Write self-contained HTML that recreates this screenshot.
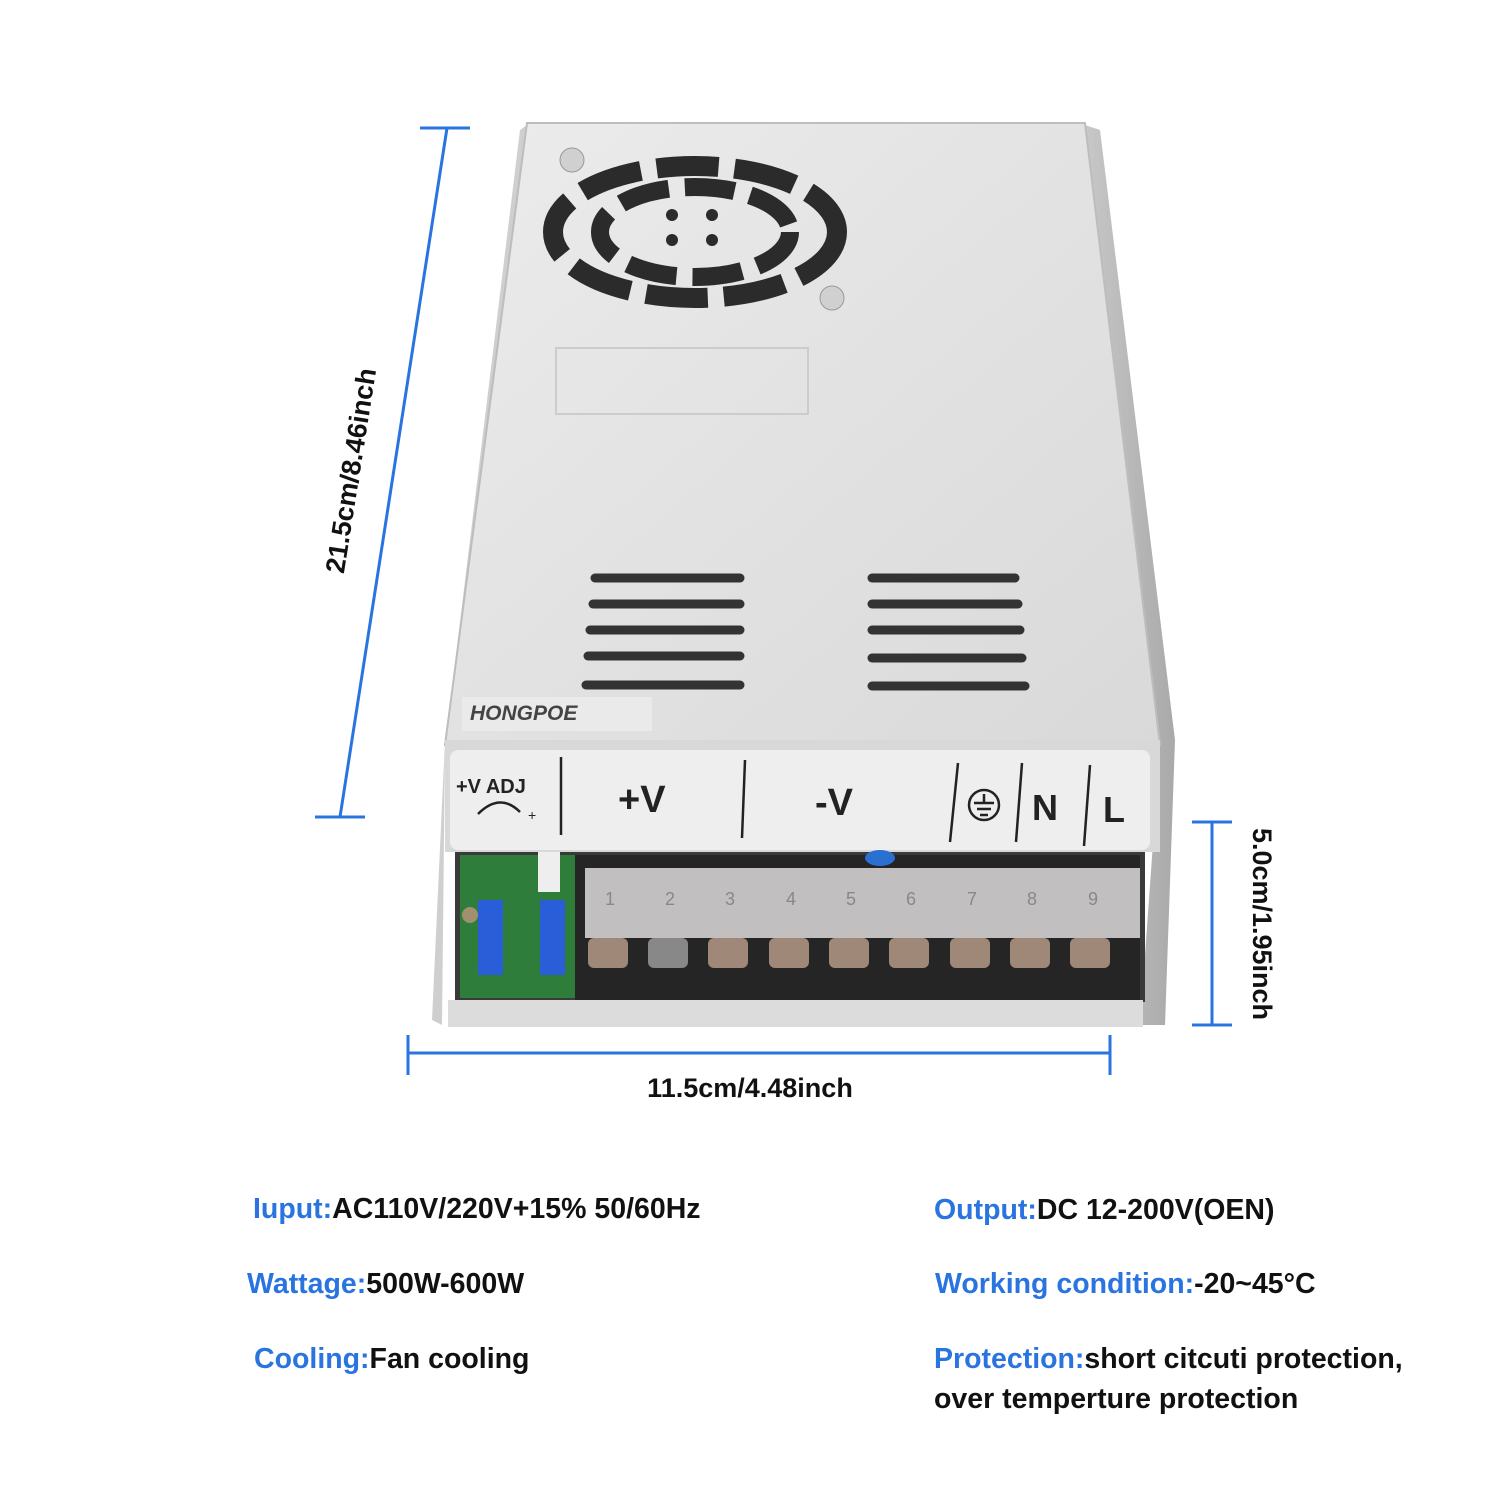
<!DOCTYPE html>
<html><head><meta charset="utf-8"><style>
html,body{margin:0;padding:0;background:#fff;width:1500px;height:1500px;overflow:hidden}
svg{display:block}
.lab{font-family:"Liberation Sans",sans-serif;font-weight:bold;font-size:27px}
.spec{font-family:"Liberation Sans",sans-serif;font-weight:bold;font-size:28.5px}
</style></head><body>
<svg width="1500" height="1500" viewBox="0 0 1500 1500">
<defs>
<linearGradient id="top" x1="0" y1="0" x2="1" y2="1">
<stop offset="0" stop-color="#ececec"/><stop offset="0.5" stop-color="#e2e2e2"/><stop offset="1" stop-color="#d9d9d9"/></linearGradient>
<linearGradient id="side" x1="0" y1="0" x2="1" y2="0">
<stop offset="0" stop-color="#c8c8c8"/><stop offset="1" stop-color="#a9a9a9"/></linearGradient>
</defs>
<polygon points="1085,125 1100,130 1175,740 1165,1025 1140,1025 1160,745" fill="url(#side)"/>
<polygon points="527,125 445,740 432,1020 442,1025 445,745 520,130" fill="#cfcfcf"/>
<polygon points="527,123 1085,123 1160,745 445,745" fill="url(#top)" stroke="#bdbdbd" stroke-width="2"/>
<ellipse cx="695" cy="232" rx="142" ry="66" fill="none" stroke="#2b2b2b" stroke-width="20" stroke-dasharray="62 16"/>
<ellipse cx="695" cy="232" rx="95" ry="45" fill="none" stroke="#2b2b2b" stroke-width="18" stroke-dasharray="50 16"/>
<circle cx="672" cy="215" r="6" fill="#2b2b2b"/><circle cx="712" cy="215" r="6" fill="#2b2b2b"/>
<circle cx="672" cy="240" r="6" fill="#2b2b2b"/><circle cx="712" cy="240" r="6" fill="#2b2b2b"/>
<circle cx="572" cy="160" r="12" fill="#d0d0d0" stroke="#999"/>
<circle cx="832" cy="298" r="12" fill="#d0d0d0" stroke="#999"/>
<rect x="556" y="348" width="252" height="66" fill="none" stroke="#ccc" stroke-width="2"/>
<g stroke="#333" stroke-width="9" stroke-linecap="round">
<line x1="595" y1="578" x2="740" y2="578"/><line x1="593" y1="604" x2="740" y2="604"/>
<line x1="590" y1="630" x2="740" y2="630"/><line x1="588" y1="656" x2="740" y2="656"/>
<line x1="586" y1="685" x2="740" y2="685"/>
<line x1="872" y1="578" x2="1015" y2="578"/><line x1="872" y1="604" x2="1018" y2="604"/>
<line x1="872" y1="630" x2="1020" y2="630"/><line x1="872" y1="658" x2="1022" y2="658"/>
<line x1="872" y1="686" x2="1025" y2="686"/>
</g>
<rect x="462" y="697" width="190" height="34" fill="#eaeaea"/>
<text x="470" y="720" font-family="Liberation Sans,sans-serif" font-weight="bold" font-style="italic" font-size="21" fill="#444">HONGPOE</text>
<rect x="445" y="740" width="715" height="112" fill="#d8d8d8"/>
<rect x="450" y="750" width="700" height="100" rx="8" fill="#eeeeee"/>
<g stroke="#222" stroke-width="2.5">
<line x1="561" y1="757" x2="561" y2="835"/><line x1="745" y1="760" x2="742" y2="838"/>
<line x1="958" y1="763" x2="950" y2="842"/><line x1="1022" y1="763" x2="1016" y2="842"/>
<line x1="1090" y1="765" x2="1084" y2="846"/></g>
<text x="456" y="793" font-family="Liberation Sans,sans-serif" font-weight="bold" font-size="20" fill="#222">+V ADJ</text>
<path d="M478 814 Q500 792 520 812" fill="none" stroke="#222" stroke-width="2.5"/>
<text x="528" y="820" font-family="Liberation Sans,sans-serif" font-size="14" fill="#222">+</text>
<text x="618" y="812" font-family="Liberation Sans,sans-serif" font-weight="bold" font-size="38" fill="#222">+V</text>
<text x="815" y="815" font-family="Liberation Sans,sans-serif" font-weight="bold" font-size="38" fill="#222">-V</text>
<circle cx="984" cy="805" r="15" fill="none" stroke="#222" stroke-width="2.5"/>
<g stroke="#222" stroke-width="2.5"><line x1="984" y1="794" x2="984" y2="803"/><line x1="974" y1="803" x2="994" y2="803"/><line x1="977" y1="809" x2="991" y2="809"/><line x1="980" y1="815" x2="988" y2="815"/></g>
<text x="1032" y="820" font-family="Liberation Sans,sans-serif" font-weight="bold" font-size="36" fill="#222">N</text>
<text x="1103" y="822" font-family="Liberation Sans,sans-serif" font-weight="bold" font-size="36" fill="#222">L</text>
<rect x="455" y="852" width="690" height="150" fill="#3a3a3a"/>
<rect x="460" y="855" width="115" height="143" fill="#2f7d3a"/>
<rect x="538" y="852" width="22" height="40" fill="#eee"/>
<rect x="478" y="900" width="25" height="75" fill="#2a5ed8"/>
<rect x="540" y="900" width="25" height="75" fill="#2a5ed8"/>
<circle cx="470" cy="915" r="8" fill="#a09070"/>
<rect x="575" y="855" width="565" height="145" fill="#252525"/>
<rect x="585" y="868" width="555" height="70" fill="#d4d0d2" opacity="0.9"/>
<ellipse cx="880" cy="858" rx="15" ry="8" fill="#2a70d0"/>
<g font-family="Liberation Sans,sans-serif" font-size="18" fill="#888">
<text x="605" y="905">1</text><text x="665" y="905">2</text><text x="725" y="905">3</text><text x="786" y="905">4</text><text x="846" y="905">5</text><text x="906" y="905">6</text><text x="967" y="905">7</text><text x="1027" y="905">8</text><text x="1088" y="905">9</text></g>
<g fill="#a08878">
<rect x="588" y="938" width="40" height="30" rx="6"/><rect x="648" y="938" width="40" height="30" rx="6" fill="#888"/><rect x="708" y="938" width="40" height="30" rx="6"/><rect x="769" y="938" width="40" height="30" rx="6"/><rect x="829" y="938" width="40" height="30" rx="6"/><rect x="889" y="938" width="40" height="30" rx="6"/><rect x="950" y="938" width="40" height="30" rx="6"/><rect x="1010" y="938" width="40" height="30" rx="6"/><rect x="1070" y="938" width="40" height="30" rx="6"/></g>
<rect x="448" y="1000" width="695" height="27" fill="#dcdcdc"/>
<g stroke="#2a74e0" stroke-width="3">
<line x1="447" y1="128" x2="340" y2="817"/>
<line x1="420" y1="128" x2="470" y2="128"/><line x1="315" y1="817" x2="365" y2="817"/>
<line x1="1212" y1="822" x2="1212" y2="1025"/>
<line x1="1192" y1="822" x2="1232" y2="822"/><line x1="1192" y1="1025" x2="1232" y2="1025"/>
<line x1="408" y1="1053" x2="1110" y2="1053"/>
<line x1="408" y1="1035" x2="408" y2="1075"/><line x1="1110" y1="1035" x2="1110" y2="1075"/>
</g>
<text class="lab" transform="translate(360,472) rotate(-81)" text-anchor="middle" fill="#111">21.5cm/8.46inch</text>
<text class="lab" transform="translate(1253,924) rotate(90)" text-anchor="middle" fill="#111">5.0cm/1.95inch</text>
<text class="lab" x="750" y="1097" text-anchor="middle" fill="#111">11.5cm/4.48inch</text>
<g class="spec">
<text x="253" y="1218"><tspan fill="#2a74e0">Iuput:</tspan><tspan fill="#111">AC110V/220V+15% 50/60Hz</tspan></text>
<text x="247" y="1293"><tspan fill="#2a74e0">Wattage:</tspan><tspan fill="#111">500W-600W</tspan></text>
<text x="254" y="1368"><tspan fill="#2a74e0">Cooling:</tspan><tspan fill="#111">Fan cooling</tspan></text>
<text x="934" y="1219"><tspan fill="#2a74e0">Output:</tspan><tspan fill="#111">DC 12-200V(OEN)</tspan></text>
<text x="935" y="1293"><tspan fill="#2a74e0">Working condition:</tspan><tspan fill="#111">-20~45°C</tspan></text>
<text x="934" y="1368"><tspan fill="#2a74e0">Protection:</tspan><tspan fill="#111">short citcuti protection,</tspan></text>
<text x="934" y="1408" fill="#111">over temperture protection</text>
</g>
</svg>
</body></html>
